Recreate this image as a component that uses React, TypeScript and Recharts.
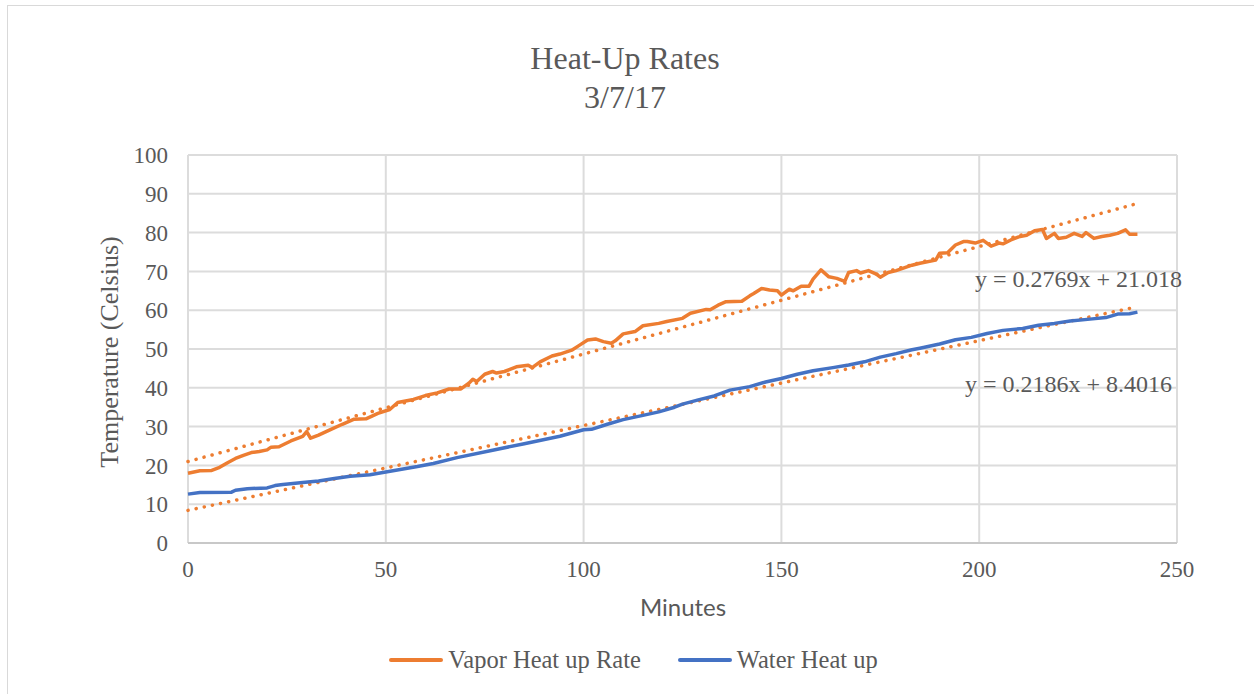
import { CartesianGrid, Legend, Line, LineChart, XAxis, YAxis } from "recharts";

const vaporMinutes = [
  0, 3, 6, 8, 10, 12, 14, 16, 18, 20, 21, 23, 26, 29, 30, 31, 33, 36, 39, 42, 45, 48, 51, 53, 57, 60,
  63, 66, 69, 71, 72, 73, 75, 77, 78, 80, 83, 86, 87, 89, 92, 94, 97, 99, 101, 103, 105, 107, 108, 110,
  113, 115, 119, 121, 125, 127, 131, 132, 134, 136, 140, 142, 143, 145, 147, 149, 150, 152, 153, 155,
  157, 158, 160, 162, 164, 166, 167, 169, 170, 172, 174, 175, 177, 179, 181, 183, 185, 189, 190, 192,
  194, 196, 197, 199, 201, 203, 205, 206, 208, 210, 212, 214, 216, 217, 219, 220, 222, 224, 226, 227,
  229, 231, 233, 235, 237, 238, 240,
];
const vaporTemps = [
  18.0, 18.6, 18.7, 19.5, 20.7, 21.8, 22.6, 23.3, 23.6, 24.0, 24.7, 24.8, 26.3, 27.5, 28.7, 27.0, 27.8,
  29.2, 30.6, 31.9, 32.0, 33.4, 34.4, 36.2, 37.0, 38.0, 38.7, 39.7, 39.7, 41.2, 42.2, 41.6, 43.5, 44.2,
  43.8, 44.2, 45.4, 45.8, 45.2, 46.7, 48.2, 48.7, 49.7, 51.0, 52.3, 52.6, 51.9, 51.5, 52.1, 53.9, 54.5,
  56.0, 56.6, 57.1, 57.9, 59.2, 60.2, 60.1, 61.3, 62.2, 62.3, 63.7, 64.3, 65.6, 65.2, 65.0, 63.9, 65.4,
  65.0, 66.2, 66.2, 68.0, 70.4, 68.6, 68.2, 67.4, 69.7, 70.2, 69.6, 70.2, 69.3, 68.5, 69.7, 70.2, 70.9,
  71.6, 72.1, 72.9, 74.7, 74.8, 76.8, 77.7, 77.7, 77.3, 78.0, 76.5, 77.3, 77.1, 78.1, 78.9, 79.3, 80.5,
  80.8, 78.5, 79.8, 78.5, 78.8, 79.8, 79.0, 80.0, 78.5, 79.0, 79.3, 79.8, 80.7, 79.6, 79.6,
];

const waterMinutes = [
  0, 3, 11, 12, 15, 20, 22, 24, 29, 33, 37, 41, 46, 50, 54, 58, 62, 68, 77, 85, 94, 100, 102, 106, 110,
  115, 119, 123, 125, 129, 133, 137, 142, 146, 150, 154, 158, 163, 167, 171, 175, 179, 183, 185, 190,
  194, 198, 202, 206, 211, 215, 219, 223, 228, 232, 235, 238, 240,
];
const waterTemps = [
  12.6, 13.0, 13.1, 13.6, 14.0, 14.2, 14.8, 15.1, 15.6, 16.0, 16.6, 17.2, 17.6, 18.3, 19.0, 19.7, 20.5,
  22.0, 23.9, 25.6, 27.5, 29.2, 29.3, 30.6, 31.8, 32.9, 33.8, 35.0, 35.8, 36.9, 37.9, 39.4, 40.3, 41.5,
  42.4, 43.5, 44.4, 45.2, 45.9, 46.7, 47.9, 48.8, 49.8, 50.2, 51.3, 52.4, 53.0, 54.0, 54.8, 55.3, 56.1,
  56.6, 57.2, 57.7, 58.1, 59.0, 59.1, 59.5,
];

const trendMinutes = [0, 240];
const vaporTrendTemps = [21.0, 87.5];
const waterTrendTemps = [8.4, 60.9];

const xTicks = [0, 50, 100, 150, 200, 250];
const yTicks = [0, 10, 20, 30, 40, 50, 60, 70, 80, 90, 100];

const vaporData = vaporMinutes.map((m, i) => ({ min: m, vapor: vaporTemps[i] }));
const waterData = waterMinutes.map((m, i) => ({ min: m, water: waterTemps[i] }));
const vaporTrend = trendMinutes.map((m, i) => ({ min: m, vt: vaporTrendTemps[i] }));
const waterTrend = trendMinutes.map((m, i) => ({ min: m, wt: waterTrendTemps[i] }));

const ORANGE = "#ED7D31";
const BLUE = "#4472C4";
const TEXT = "#595959";
const SERIF = "'Liberation Serif', 'Times New Roman', serif";

function LegendRow(props: any) {
  const items = (props.payload || []).filter((p: any) => p.type !== "none");
  return (
    <div style={{ display: "flex", justifyContent: "center", height: 30, alignItems: "center", paddingLeft: 50 }}>
      {items.map((p: any) => (
        <div key={p.value} style={{ display: "flex", alignItems: "center", marginRight: 37 }}>
          <svg width={54} height={10} style={{ marginRight: 5 }}>
            <line x1={2} y1={5} x2={52} y2={5} stroke={p.color} strokeWidth={4} strokeLinecap="round" />
          </svg>
          <span style={{ fontFamily: SERIF, fontSize: 24.5, color: TEXT }}>{p.value}</span>
        </div>
      ))}
    </div>
  );
}

export default function App() {
  return (
    <div style={{ position: "absolute", left: 0, top: 0, width: 1254, height: 694, background: "#fff", overflow: "hidden" }}>
      <div style={{ position: "absolute", left: 7, top: 5, width: 1300, height: 720, border: "1px solid #d9d9d9" }} />
      <div
        style={{
          position: "absolute", left: 0, top: 39, width: 1250, textAlign: "center",
          fontFamily: SERIF, fontSize: 32, lineHeight: "39px", color: TEXT,
        }}
      >
        Heat-Up Rates
        <br />
        3/7/17
      </div>
      <LineChart
        width={1254}
        height={694}
        margin={{ top: 155, right: 77, bottom: 81, left: 0 }}
        style={{ position: "absolute", left: 0, top: 0 }}
      >
        <CartesianGrid stroke="#dcdcdc" strokeWidth={2} />
        <XAxis
          type="number"
          dataKey="min"
          domain={[0, 250]}
          ticks={xTicks}
          height={40}
          tickLine={false}
          tickMargin={12}
          axisLine={{ stroke: "#c8c8c8", strokeWidth: 2 }}
          tick={{ fill: TEXT, fontSize: 23, fontFamily: SERIF }}
          allowDuplicatedCategory={false}
        />
        <YAxis
          type="number"
          domain={[0, 100]}
          ticks={yTicks}
          width={188}
          tickLine={false}
          axisLine={false}
          tickMargin={14}
          tick={{ fill: TEXT, fontSize: 23, fontFamily: SERIF }}
        />
        <Line data={vaporTrend} dataKey="vt" name="vaporTrend" legendType="none" stroke={ORANGE}
          strokeWidth={3.5} strokeDasharray="0.1 8.2" strokeLinecap="round" dot={false} isAnimationActive={false} />
        <Line data={waterTrend} dataKey="wt" name="waterTrend" legendType="none" stroke={ORANGE}
          strokeWidth={3.5} strokeDasharray="0.1 8.2" strokeLinecap="round" dot={false} isAnimationActive={false} />
        <Line data={vaporData} dataKey="vapor" name="Vapor Heat up Rate" stroke={ORANGE} strokeWidth={3.5}
          dot={false} strokeLinejoin="round" isAnimationActive={false} />
        <Line data={waterData} dataKey="water" name="Water Heat up" stroke={BLUE} strokeWidth={3.5}
          dot={false} strokeLinejoin="round" isAnimationActive={false} />
        <Legend content={LegendRow} wrapperStyle={{ top: 645, left: 0, width: 1254 }} />
      </LineChart>
      <div
        style={{
          position: "absolute", left: 583, top: 592, width: 200, textAlign: "center",
          fontFamily: "Lato, 'Open Sans', sans-serif", fontSize: 24, lineHeight: "30px", color: TEXT,
        }}
      >
        Minutes
      </div>
      <div
        style={{
          position: "absolute", left: 110 - 150, top: 352 - 16, width: 300, height: 32, textAlign: "center",
          transform: "rotate(-90deg)", fontFamily: SERIF, fontSize: 26, lineHeight: "32px", color: TEXT,
        }}
      >
        Temperature (Celsius)
      </div>
      <div style={{ position: "absolute", left: 975, top: 266, fontFamily: SERIF, fontSize: 24, color: TEXT, whiteSpace: "nowrap" }}>
        y = 0.2769x + 21.018
      </div>
      <div style={{ position: "absolute", left: 965, top: 371, fontFamily: SERIF, fontSize: 24, color: TEXT, whiteSpace: "nowrap" }}>
        y = 0.2186x + 8.4016
      </div>
    </div>
  );
}
